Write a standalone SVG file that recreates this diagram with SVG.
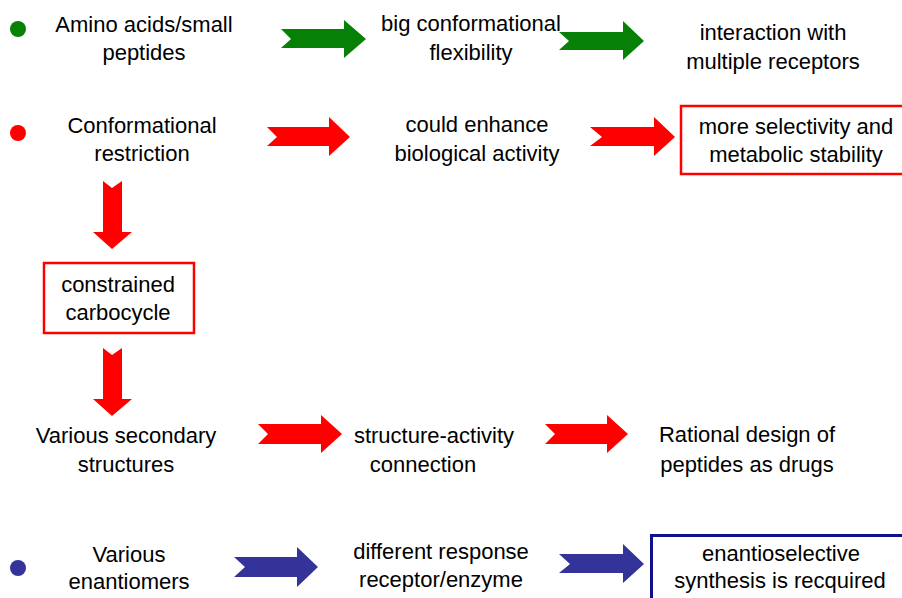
<svg xmlns="http://www.w3.org/2000/svg" width="902" height="598" viewBox="0 0 902 598">
<style>
text{font-family:"Liberation Sans",Arial,sans-serif;font-size:22px;fill:#000;text-anchor:middle}
.g{fill:#078007}
.r{fill:#ff0000}
.b{fill:#333399}
.box{fill:none;stroke-width:2.5}
</style>
<rect width="902" height="598" fill="#fff"/>
<g id="bullets">
<circle cx="18" cy="29" r="8" class="g"/>
<circle cx="18" cy="133" r="8" class="r"/>
<circle cx="18" cy="568" r="8" class="b"/>
</g>
<g id="connectors">
<polygon class="g" points="281,29 344,29 344,20 366,39 344,58 344,48 281,48 291,39"/>
<polygon class="g" points="559,32 623,32 623,21 644,41 623,60 623,50 559,50 569,41"/>
<polygon class="r" points="267,127 329,127 329,117 350,137 329,156 329,146 267,146 277,137"/>
<polygon class="r" points="590,127 654,127 654,117 675,137 654,156 654,146 590,146 602,137"/>
<polygon class="r" points="103,181 112,188 122,181 122,232 132,232 112,249 93,232 103,232"/>
<polygon class="r" points="103,348 112,355 122,348 122,399 132,399 112,416 93,399 103,399"/>
<polygon class="r" points="258,424 321,424 321,415 342,434 321,453 321,444 258,444 268,434"/>
<polygon class="r" points="545,424 607,424 607,415 628,434 607,453 607,444 545,444 555,434"/>
<polygon class="b" points="234,557 297,557 297,547 318,567 297,587 297,577 234,577 245,567"/>
<polygon class="b" points="559,554 623,554 623,544 644,564 623,583 623,573 559,573 570,564"/>
</g>
<g id="amino">
<text x="144" y="32">Amino acids/small</text>
<text x="144" y="60">peptides</text>
</g>
<g id="flexibility">
<text x="471" y="31">big conformational</text>
<text x="471" y="60">flexibility</text>
</g>
<g id="interaction">
<text x="773" y="40">interaction with</text>
<text x="773" y="69">multiple receptors</text>
</g>
<g id="restriction">
<text x="142" y="133">Conformational</text>
<text x="142" y="161">restriction</text>
</g>
<g id="enhance">
<text x="477" y="132">could enhance</text>
<text x="477" y="161">biological activity</text>
</g>
<g id="selectivity">
<rect class="box" x="681" y="106" width="226" height="68" stroke="#ff0000"/>
<text x="796" y="134">more selectivity and</text>
<text x="796" y="162">metabolic stability</text>
</g>
<g id="carbocycle">
<rect class="box" x="44" y="263" width="150" height="70" stroke="#ff0000"/>
<text x="118" y="292">constrained</text>
<text x="118" y="320">carbocycle</text>
</g>
<g id="secondary">
<text x="126" y="443">Various secondary</text>
<text x="126" y="472">structures</text>
</g>
<g id="sar">
<text x="434" y="443">structure-activity</text>
<text x="423" y="472">connection</text>
</g>
<g id="rational">
<text x="747" y="442">Rational design of</text>
<text x="747" y="472">peptides as drugs</text>
</g>
<g id="enantiomers">
<text x="129" y="562">Various</text>
<text x="129" y="589">enantiomers</text>
</g>
<g id="response">
<text x="441" y="559">different response</text>
<text x="441" y="587">receptor/enzyme</text>
</g>
<g id="enantioselective">
<rect x="651.5" y="535.5" width="260" height="80" fill="none" stroke="#10108c" stroke-width="3"/>
<text x="781" y="561">enantioselective</text>
<text x="780" y="588">synthesis is recquired</text>
</g>
</svg>
